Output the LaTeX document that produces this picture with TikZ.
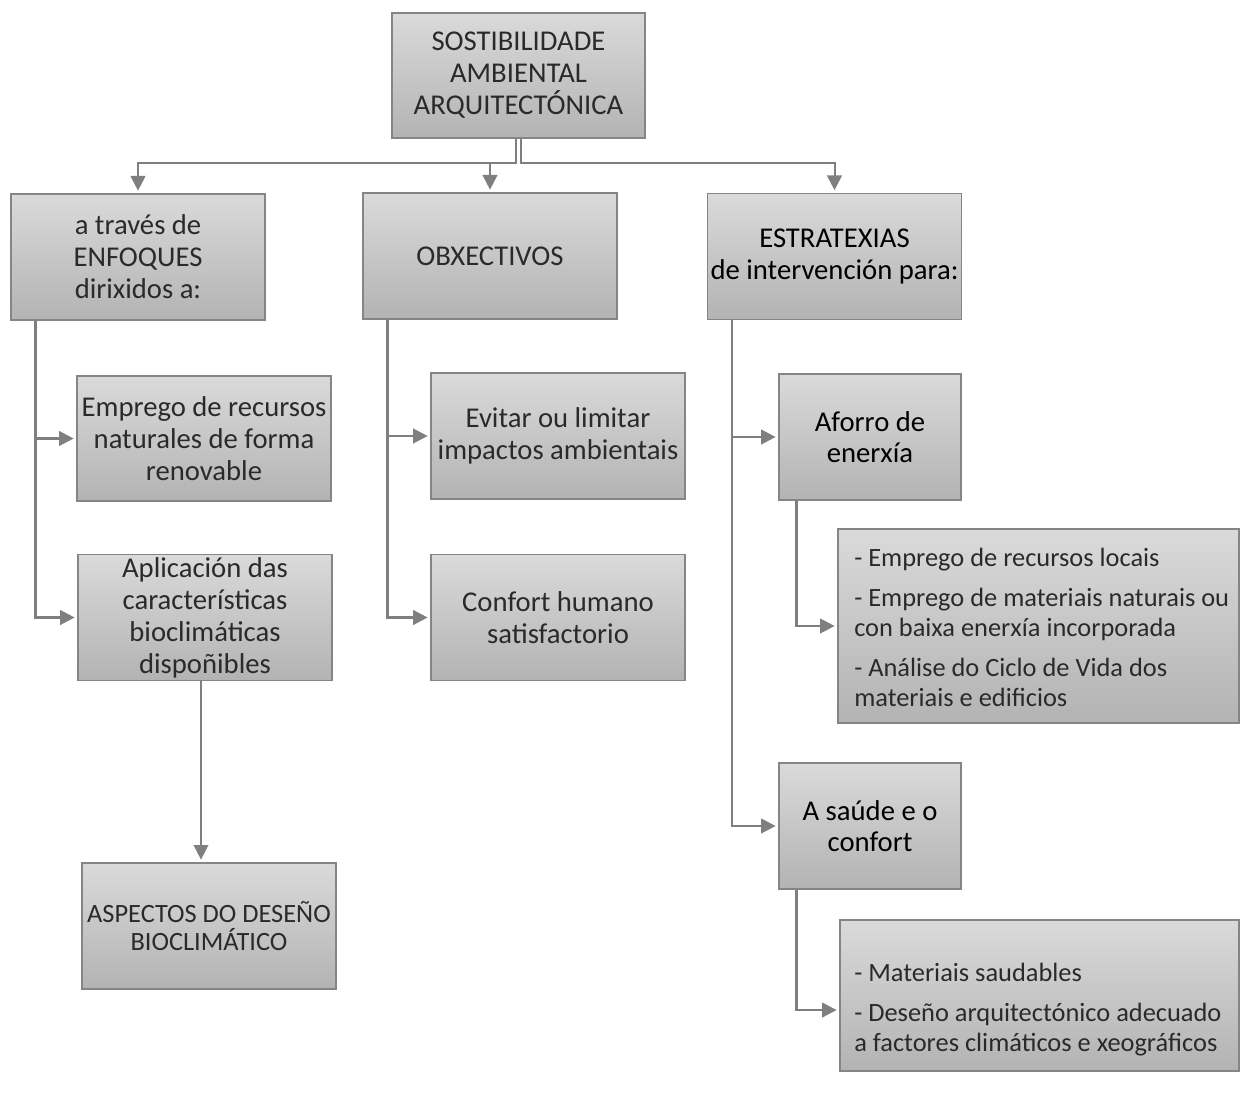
\documentclass[tikz,border=0pt]{standalone}
\usepackage{fontspec}
\setmainfont{Carlito}
\usetikzlibrary{arrows.meta,calc}
\definecolor{boxtop}{HTML}{DADADA}
\definecolor{boxbot}{HTML}{B3B3B3}
\definecolor{edge}{HTML}{858585}
\definecolor{lnk}{HTML}{7F7F7F}
\definecolor{txt}{HTML}{2A2A2A}
\begin{document}
\begin{tikzpicture}[x=0.75pt,y=-0.75pt,
  box/.style={draw=edge, line width=1pt, top color=boxtop, bottom color=boxbot,
    align=center, inner sep=0pt, text=txt, font=\fontsize{21.5}{24}\selectfont},
  strong/.style={text=black, font=\fontsize{21.5}{23.5}\selectfont},
  wide/.style={minimum width=190.5pt, minimum height=94.5pt},
  narrow/.style={minimum width=136.5pt, minimum height=94.5pt},
  listtxt/.style={anchor=west, align=left, inner sep=0pt, text=txt,
    font=\fontsize{19.8}{22.5}\selectfont},
  conn/.style={draw=lnk, line width=1.8pt, -{Triangle[length=11pt,width=11pt]}, shorten >=2pt},
  thin/.style={draw=lnk, line width=1pt, -{Triangle[length=11pt,width=11pt]}, shorten >=2pt},
  dbl/.style={draw=lnk, line width=1.5pt, -{Triangle[length=11pt,width=11pt]}, shorten >=2pt}]
\useasboundingbox (0,0) rectangle (1240,1102);

% boxes
\node[box, minimum width=189.75pt, minimum height=93.75pt] (top) at (518.5,75.5)
  {SOSTIBILIDADE\\AMBIENTAL\\ARQUITECTÓNICA};
\node[box, wide] (A) at (138,257) {a través de\\ENFOQUES\\dirixidos a:};
\node[box, wide] (B) at (490,256) {OBXECTIVOS};
\node[box, wide, strong] (C) at (834.5,256.5) {ESTRATEXIAS\\de intervención para:};

\node[box, wide, minimum height=93.75pt] (A1) at (204,438.5)
  {Emprego de recursos\\naturales de forma\\renovable};
\node[box, wide] (A2) at (205,617.5)
  {Aplicación das\\características\\bioclimáticas\\dispoñibles};
\node[box, wide, font=\fontsize{19.8}{21}\selectfont] (A3) at (209,926)
  {ASPECTOS DO DESEÑO\\BIOCLIMÁTICO};

\node[box, wide] (B1) at (558,436) {Evitar ou limitar\\impactos ambientais};
\node[box, wide] (B2) at (558,617.5) {Confort humano\\satisfactorio};

\node[box, narrow, strong] (C1) at (870,437) {Aforro de\\enerxía};
\node[box, narrow, strong] (C2) at (870,826) {A saúde e o\\confort};

\node[box, minimum width=300.75pt, minimum height=145.5pt] (C1a) at (1038.5,626) {};
\node[listtxt] (C1at) at (854,627)
  {- Emprego de recursos locais\\[7.5pt]
   - Emprego de materiais naturais ou\\
   con baixa enerxía incorporada\\[7.5pt]
   - Análise do Ciclo de Vida dos\\
   materiais e edificios};
\node[box, minimum width=299.25pt, minimum height=113.25pt] (C2a) at (1039.5,995.5) {};
\node[listtxt] (C2at) at (854,1010)
  {- Materiais saudables\\[7.5pt]
   - Deseño arquitectónico adecuado\\
   a factores climáticos e xeográficos};

% bus from top box
\coordinate (bus) at (517,163);
\draw[dbl] ([xshift=-1.6pt]top.south) -- ([xshift=-1.6pt]top.south |- bus) -| (A.north);
\draw[dbl] ([xshift=-1.6pt]top.south) -- ([xshift=-1.6pt]top.south |- bus) -| (B.north);
\draw[dbl] ([xshift=1.6pt]top.south) -- ([xshift=1.6pt]top.south |- bus) -| (C.north);

% branches
\draw[conn] ([xshift=18.75pt]A.south west) |- (A1.west);
\draw[conn] ([xshift=18.75pt]A.south west) |- (A2.west);
\draw[thin] ([xshift=-3pt]A2.south) -- ([xshift=-3pt]A2.south |- A3.north);

\draw[conn] ([xshift=18.75pt]B.south west) |- (B1.west);
\draw[conn] ([xshift=18.75pt]B.south west) |- (B2.west);

\draw[conn] ([xshift=18.75pt]C.south west) |- (C1.west);
\draw[conn] ([xshift=18.75pt]C.south west) |- (C2.west);

\draw[conn] ([xshift=13.5pt]C1.south west) |- (C1a.west);
\draw[conn] ([xshift=13.5pt]C2.south west) |- ([yshift=-10.9pt]C2a.west);
\end{tikzpicture}
\end{document}
